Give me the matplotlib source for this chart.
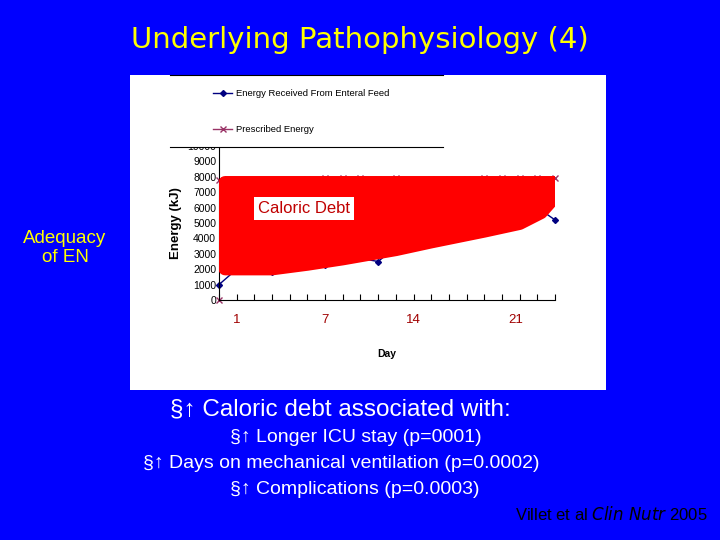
import matplotlib
matplotlib.use("Agg")
import matplotlib.pyplot as plt
from matplotlib.patches import Polygon, Rectangle

plt.rcParams['font.family'] = ['Liberation Sans', 'DejaVu Sans']

days = list(range(20))
received = [1000, 2000, 2100, 1850, 2150, 2200, 2300, 2550, 2700, 2500, 3450, 3800, 4100, 4300, 4450, 4600, 4800, 5000, 6000, 5200]
prescribed = [7800, 7800, 7750, 7750, 7800, 7850, 7950, 7950, 7900, 7850, 7950, 7800, 7850, 7850, 7850, 7950, 7950, 7900, 7900, 7900]
day_labels = ["1", "7", "14", "21"]
day_label_pos = [1, 6, 11, 16.8]
debt_x = [0.35, 19.0, 19.2, 18.2, 17, 15, 12, 10, 7, 5, 3, 0.35]
debt_y = [7600, 7600, 7000, 5700, 5000, 4500, 3800, 3300, 2700, 2350, 2050, 2050]

fig = plt.figure(figsize=(7.2, 5.4), dpi=100)
fig.patch.set_facecolor("#0000ff")

fig.add_artist(Rectangle((130/720, 1-390/540), 476/720, 315/540, transform=fig.transFigure,
                         facecolor="white", edgecolor="none", zorder=-5))

ax = fig.add_axes([219/720, 1-300/540, 336/720, 154/540])
ax.set_zorder(2)
ax.set_facecolor("white")
ax.set_xlim(0, 19)
ax.set_ylim(0, 10000)
ax.plot(days, prescribed, color="#993366", marker="x", markersize=5, lw=1, clip_on=False)
ax.plot([0], [0], color="#993366", marker="x", markersize=5, lw=0, clip_on=False)
ax.plot(days, received, color="#000080", marker="D", markersize=3, lw=1, clip_on=False)
ax.add_patch(Polygon(list(zip(debt_x, debt_y)), closed=True, facecolor="#ff0000",
                     edgecolor="#ff0000", lw=10, joinstyle="round", zorder=5))
ax.text(4.8, 5950, "Caloric Debt", fontsize=12, color="#c00000", ha="center", va="center",
        zorder=6, bbox=dict(facecolor="white", edgecolor="none", pad=3))
ax.set_yticks(range(0, 10001, 1000))
ax.set_yticklabels([str(v) for v in range(0, 10001, 1000)], fontsize=7.5)
ax.set_xticks(days)
ax.set_xticklabels([])
ax.tick_params(axis="x", length=4, direction="in")
ax.tick_params(axis="y", length=0, pad=2)
for s in ["top", "right"]:
    ax.spines[s].set_visible(False)
for i, lab in zip(day_label_pos, day_labels):
    ax.text(i, -1300, lab, color="#a00000", fontsize=9.5, ha="center", va="center")
ax.text(9.5, -3500, "Day", fontsize=7.5, fontweight="bold", ha="center", va="center")
ax.set_ylabel("Energy (kJ)", fontsize=9.5, fontweight="bold", labelpad=4)

fig.add_artist(Rectangle((170/720, 1-147/540), 273/720, 72/540, transform=fig.transFigure,
                         facecolor="white", edgecolor="none", zorder=10))
for yy in [75, 147]:
    fig.add_artist(plt.Line2D([170/720, 443/720], [1-yy/540]*2, color="black", lw=0.8, zorder=11))
fig.add_artist(plt.Line2D([213/720, 222.5/720, 232/720], [1-93/540]*3, color="#000080", marker="D",
                          markersize=3, markevery=[1], lw=1, zorder=11))
fig.add_artist(plt.Line2D([213/720, 222.5/720, 232/720], [1-129/540]*3, color="#993366", marker="x",
                          markersize=5, markevery=[1], lw=1, zorder=11))
fig.text(236/720, 1-93/540, "Energy Received From Enteral Feed", fontsize=6.8, va="center", zorder=12)
fig.text(236/720, 1-129/540, "Prescribed Energy", fontsize=6.8, va="center", zorder=12)

fig.text(0.5, 1-40/540, "Underlying Pathophysiology (4)", color="#ffff00", fontsize=21,
         ha="center", va="center", family="DejaVu Sans")
fig.text(65/720, 1-248/540, "Adequacy\nof EN", color="#ffff00", fontsize=13.5, ha="center",
         va="center", linespacing=1.15)
fig.text(170/720, 1-409/540, "§↑ Caloric debt associated with:", color="white", fontsize=17.5,
         va="center")
fig.text(230/720, 1-437/540, "§↑ Longer ICU stay (p=0001)", color="white", fontsize=14, va="center")
fig.text(143/720, 1-463/540, "§↑ Days on mechanical ventilation (p=0.0002)", color="white", fontsize=14,
         va="center")
fig.text(230/720, 1-489/540, "§↑ Complications (p=0.0003)", color="white", fontsize=14, va="center")
fig.text(708/720, 1-514/540, "Villet et al $\\it{Clin\\ Nutr}$ 2005", color="black", fontsize=12,
         ha="right", va="center")

fig.savefig("out.png", dpi=100, facecolor=fig.get_facecolor())
